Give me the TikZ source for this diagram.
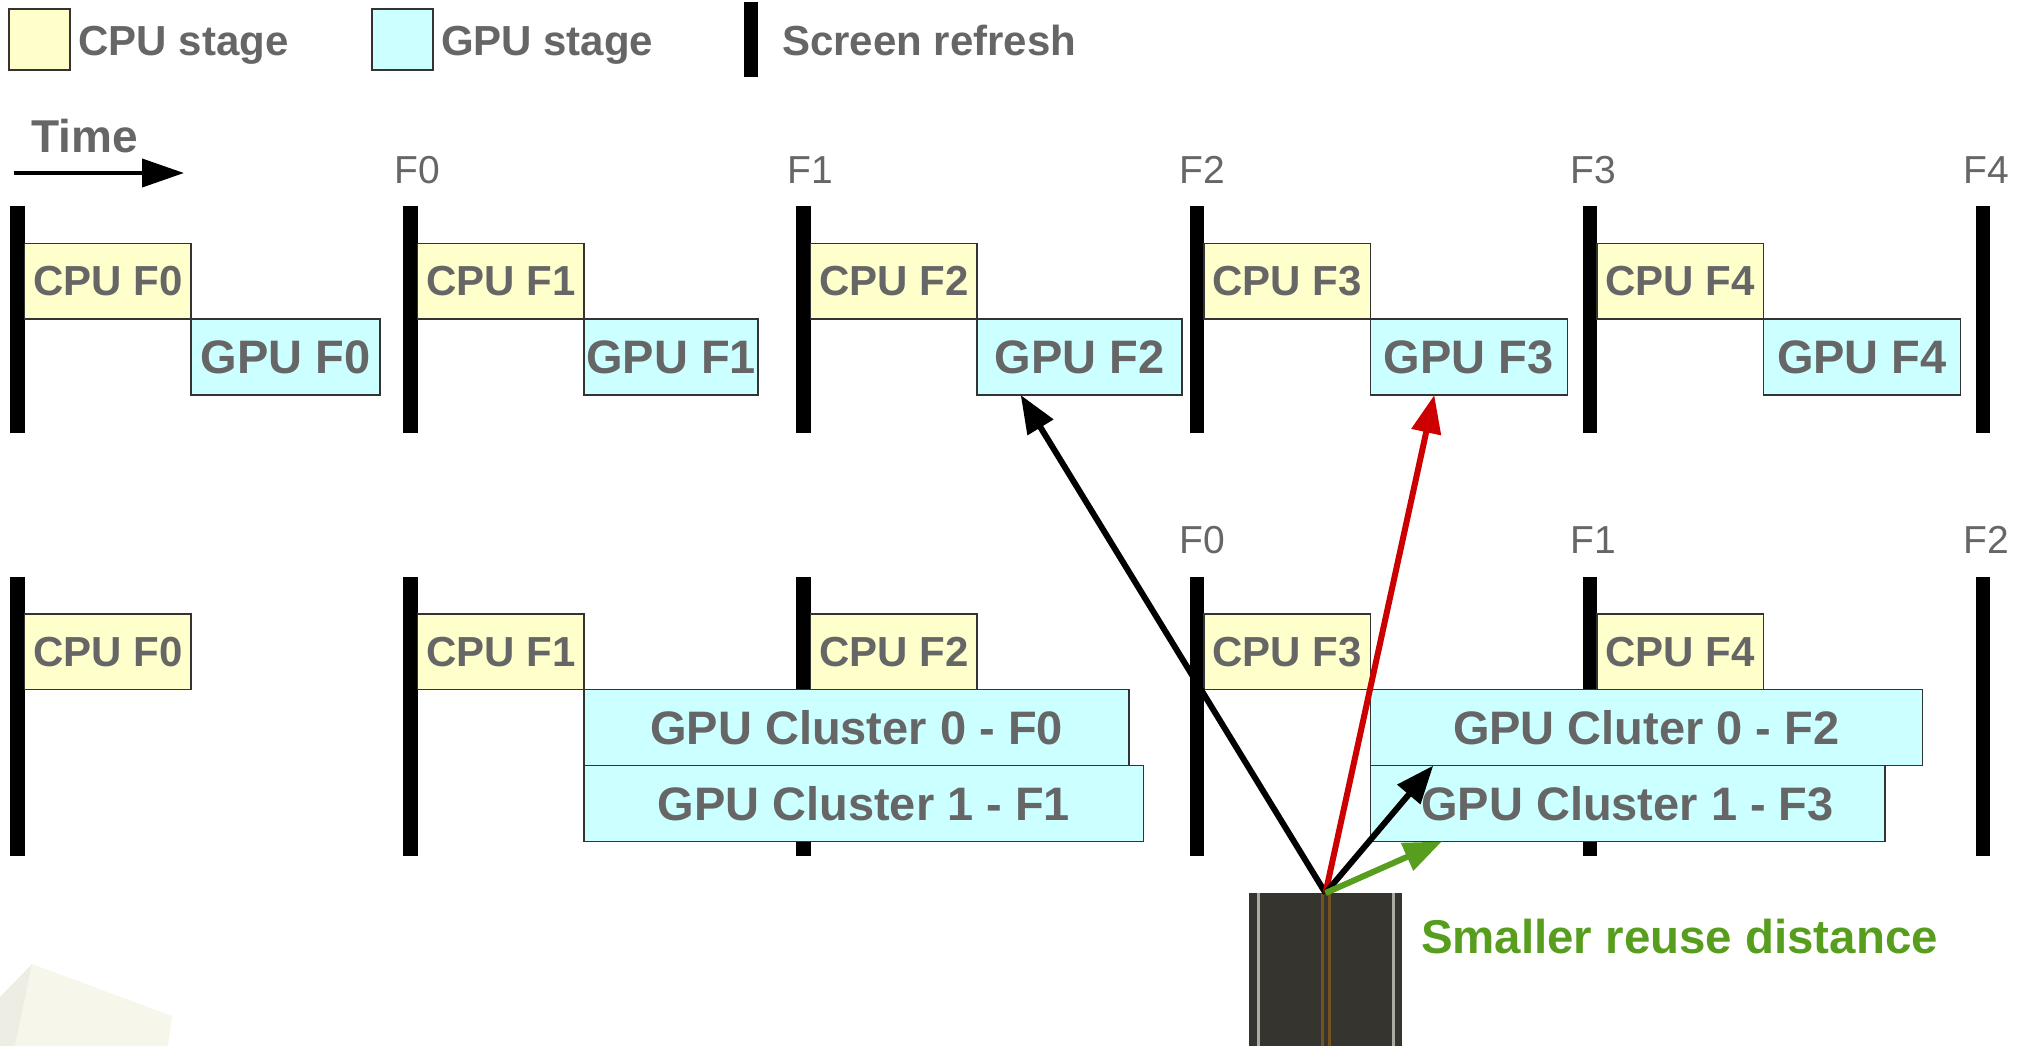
\documentclass[tikz,border=0pt]{standalone}
\usepackage{fontspec}
\setmainfont{Liberation Sans}
\usetikzlibrary{arrows.meta}

\definecolor{cpufill}{HTML}{FFFFCC}
\definecolor{gpufill}{HTML}{CCFFFF}
\definecolor{txtgray}{HTML}{666666}
\definecolor{reusegreen}{HTML}{589E1E}
\definecolor{hitred}{HTML}{CC0000}
\definecolor{asphalt}{HTML}{36342E}
\definecolor{lanewhite}{HTML}{ABAAA2}
\definecolor{laneyellow}{HTML}{74521F}
\definecolor{rockface}{HTML}{F6F6EB}
\definecolor{rockside}{HTML}{EDEDE3}

\begin{document}
\begin{tikzpicture}[x=0.1mm, y=-0.1mm,
	every node/.style={inner sep=0pt, outer sep=0pt},
	stage/.style={draw=black!80, line width=0.15mm, text=txtgray, anchor=north west,
		font=\bfseries\fontsize{11.95}{14}\selectfont, minimum height=7.55mm},
	cpubox/.style={stage, fill=cpufill, minimum width=16.65mm},
	gpubox/.style={stage, fill=gpufill, minimum height=7.6mm, font=\bfseries\fontsize{13.37}{16}\selectfont},
	keytxt/.style={anchor=base west, text=txtgray, font=\bfseries\fontsize{11.95}{14}\selectfont},
	framelbl/.style={anchor=base, text=txtgray, font=\fontsize{11.1}{13}\selectfont},
	refresh/.style={line width=1.45mm},
	hit/.style={line width=0.6mm, -{Triangle[length=3.8mm, width=2.9mm]}}]
	\useasboundingbox (0,0) rectangle (2026,1046);

	% legend
	\node[cpubox, minimum width=6.1mm, minimum height=6.1mm] (keycpu) at (9,9) {};
	\node[keytxt] (keycputxt) at (78.6,55) {CPU stage};
	\node[gpubox, minimum width=6.1mm, minimum height=6.1mm] (keygpu) at (372,9) {};
	\node[keytxt] (keygputxt) at (441,55) {GPU stage};
	\draw[line width=1.4mm] (751,2) -- (751,77);
	\node[keytxt] (keyrefresh) at (782,55) {Screen refresh};

	% time axis
	\node[anchor=base west, text=txtgray, font=\bfseries\fontsize{13.1}{15}\selectfont] (time) at (31.6,152) {Time};
	\coordinate (t0) at (14,173);
	\coordinate (t1) at (184,173);
	\draw[line width=0.4mm, -{Triangle[length=4.2mm, width=2.8mm]}] (t0) -- (t1);

	% single gpu: refresh bars and frame numbers
	\draw[refresh] (17.5,206) -- (17.5,433);
	\draw[refresh] (410.6,206) -- (410.6,433);
	\draw[refresh] (803.7,206) -- (803.7,433);
	\draw[refresh] (1196.8,206) -- (1196.8,433);
	\draw[refresh] (1589.9,206) -- (1589.9,433);
	\draw[refresh] (1983,206) -- (1983,433);
	\node[framelbl] (fa0) at (417,183) {F0};
	\node[framelbl] (fa1) at (810,183) {F1};
	\node[framelbl] (fa2) at (1202,183) {F2};
	\node[framelbl] (fa3) at (1593,183) {F3};
	\node[framelbl] (fa4) at (1986,183) {F4};

	\node[cpubox] (cpu0) at (24.5,243.5) {CPU F0};
	\node[gpubox, minimum width=18.9mm] (gpu0) at (cpu0.south east) {GPU F0};
	\node[cpubox] (cpu1) at (417.6,243.5) {CPU F1};
	\node[gpubox, minimum width=17.4mm] (gpu1) at (cpu1.south east) {GPU F1};
	\node[cpubox] (cpu2) at (810.7,243.5) {CPU F2};
	\node[gpubox, minimum width=20.5mm] (gpu2) at (cpu2.south east) {GPU F2};
	\node[cpubox] (cpu3) at (1203.8,243.5) {CPU F3};
	\node[gpubox, minimum width=19.7mm] (gpu3) at (cpu3.south east) {GPU F3};
	\node[cpubox] (cpu4) at (1596.9,243.5) {CPU F4};
	\node[gpubox, minimum width=19.7mm] (gpu4) at (cpu4.south east) {GPU F4};

	% two gpu clusters
	\draw[refresh] (17.5,577) -- (17.5,856);
	\draw[refresh] (410.6,577) -- (410.6,856);
	\draw[refresh] (803.7,577) -- (803.7,856);
	\draw[refresh] (1196.8,577) -- (1196.8,856);
	\draw[refresh] (1589.9,577) -- (1589.9,856);
	\draw[refresh] (1983,577) -- (1983,856);
	\node[framelbl] (fb0) at (1202,553) {F0};
	\node[framelbl] (fb1) at (1593,553) {F1};
	\node[framelbl] (fb2) at (1986,553) {F2};

	\node[cpubox] (cpuB0) at (24.5,614) {CPU F0};
	\node[cpubox] (cpuB1) at (417.6,614) {CPU F1};
	\node[cpubox] (cpuB2) at (810.7,614) {CPU F2};
	\node[cpubox] (cpuB3) at (1203.8,614) {CPU F3};
	\node[cpubox] (cpuB4) at (1596.9,614) {CPU F4};
	\node[gpubox, minimum width=54.5mm] (clu0a) at (cpuB1.south east) {GPU Cluster 0 - F0};
	\node[gpubox, minimum width=55.95mm] (clu1a) at (clu0a.south west) {GPU Cluster 1 - F1};
	\node[gpubox, minimum width=55.2mm] (clu0b) at (cpuB3.south east) {GPU Cluter 0 - F2};
	\node[gpubox, minimum width=51.45mm] (clu1b) at (clu0b.south west) {GPU Cluster 1 - F3};

	% rock corner
	\fill[rockface] (32,964) -- (172,1016) -- (168,1046) -- (15,1046) -- cycle;
	\fill[rockside] (0,997) -- (32,964) -- (15,1046) -- (0,1046) -- cycle;

	% road
	\node[fill=asphalt, minimum width=15.3mm, minimum height=15.3mm, anchor=north] (road) at (1325.5,893) {};
	\draw[lanewhite, line width=0.3mm] ([xshift=0.9mm]road.north west) -- ([xshift=0.9mm]road.south west);
	\draw[lanewhite, line width=0.3mm] ([xshift=-0.9mm]road.north east) -- ([xshift=-0.9mm]road.south east);
	\draw[laneyellow, line width=0.3mm] ([xshift=-0.35mm]road.north) -- ([xshift=-0.35mm]road.south);
	\draw[laneyellow, line width=0.3mm] ([xshift=0.35mm]road.north) -- ([xshift=0.35mm]road.south);

	% reuse arrows
	\draw[hit] (road.north) -- ([xshift=4.35mm]gpu2.south west);
	\draw[hit, hitred] (road.north) -- ([xshift=6.4mm]gpu3.south west);
	\draw[hit] (road.north) -- ([xshift=6.3mm]clu0b.south west);
	\draw[hit, reusegreen] (road.north) -- ([xshift=7.15mm]clu1b.south west);
	\node[anchor=base west, text=reusegreen, font=\bfseries\fontsize{13.5}{16}\selectfont] (reuse) at (1421,953) {Smaller reuse distance};
\end{tikzpicture}
\end{document}
